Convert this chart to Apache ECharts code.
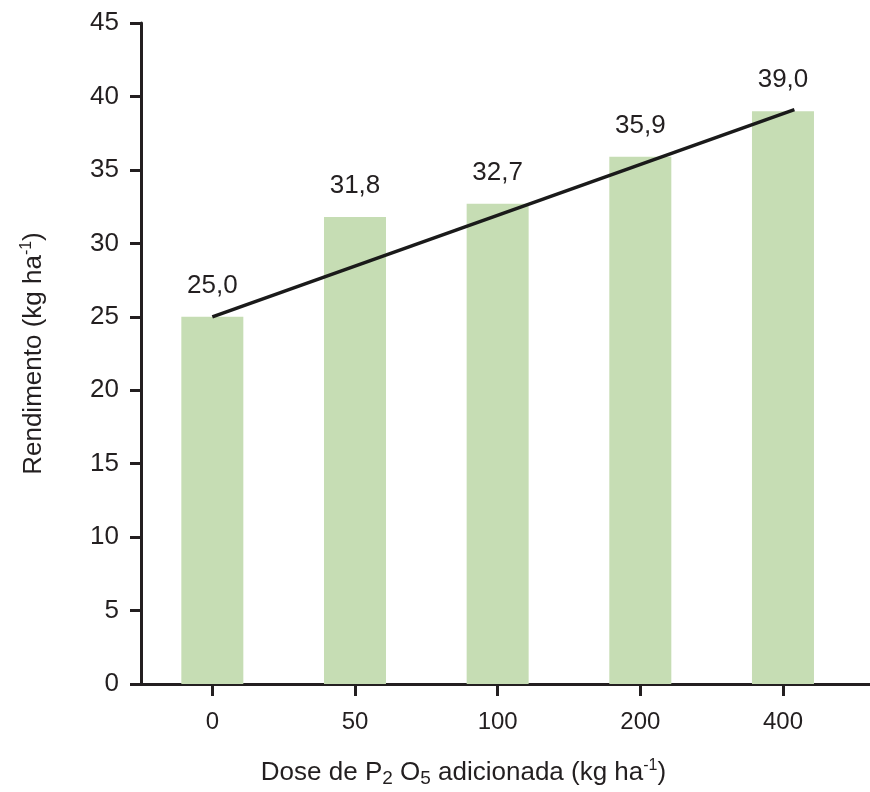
<!DOCTYPE html>
<html><head><meta charset="utf-8">
<script src="https://cdn.jsdelivr.net/npm/echarts@6/dist/echarts.min.js"></script>
<style>html,body{margin:0;padding:0;background:#fff}#c{width:870px;height:792px}</style>
</head><body><div id="c"></div>
<script>
const categories = ['0', '50', '100', '200', '400'];
const yieldValues = [25.0, 31.8, 32.7, 35.9, 39.0];
const valueLabels = ['25,0', '31,8', '32,7', '35,9', '39,0'];
const trendX = [0, 4.08];
const trendY = [25.0, 39.1];
const catPositions = [0, 1, 2, 3, 4];

const ink = '#231f20';
const font = 'Liberation Sans, Arial, sans-serif';
const chart = echarts.init(document.getElementById('c'), null, {renderer: 'canvas'});
chart.setOption({
  animation: false,
  backgroundColor: '#fff',
  grid: {left: 141, right: 0, top: 23, bottom: 108, containLabel: false, outerBoundsMode: 'none'},
  xAxis: {
    type: 'value', min: -0.5, max: 4.61,
    name: '{a|Dose de P}{sub|2}{a| O}{sub|5}{a| adicionada (kg ha}{sup|-1}{a|)}',
    nameLocation: 'middle', nameGap: 74,
    nameTextStyle: {
      padding: [0, 84, 0, 0],
      rich: {
        a: {fontSize: 26, fontFamily: font, color: ink, lineHeight: 30},
        sub: {fontSize: 19, fontFamily: font, color: ink, lineHeight: 4, verticalAlign: 'bottom'},
        sup: {fontSize: 16, fontFamily: font, color: ink, lineHeight: 16, verticalAlign: 'top'}
      }
    },
    axisLine: {show: true, onZero: false, lineStyle: {color: ink, width: 3}},
    axisTick: {show: true, customValues: catPositions, length: 12, lineStyle: {color: ink, width: 3}},
    axisLabel: {customValues: catPositions, formatter: v => categories[Math.round(v)], margin: 26,
      fontSize: 24, fontFamily: font, color: ink},
    splitLine: {show: false}
  },
  yAxis: {
    type: 'value', min: 0, max: 45, interval: 5,
    name: '{a|Rendimento (kg ha}{sup|-1}{a|)}',
    nameLocation: 'middle', nameGap: 92,
    nameTextStyle: {
      rich: {
        a: {fontSize: 26, fontFamily: font, color: ink, lineHeight: 30},
        sup: {fontSize: 16, fontFamily: font, color: ink, lineHeight: 16, verticalAlign: 'top'}
      }
    },
    axisLine: {show: true, onZero: false, lineStyle: {color: ink, width: 3}},
    axisTick: {show: true, length: 11, lineStyle: {color: ink, width: 3}},
    axisLabel: {margin: 22, fontSize: 26, fontFamily: font, color: ink},
    splitLine: {show: false}
  },
  series: [
    {
      type: 'bar', barWidth: 62,
      data: yieldValues.map((v, i) => [catPositions[i], v]),
      itemStyle: {color: '#c6ddb4'},
      label: {show: true, position: 'top', distance: 18, fontSize: 26, fontFamily: font, color: ink,
        formatter: p => valueLabels[p.dataIndex]},
      z: 2
    },
    {
      type: 'line', symbol: 'none',
      data: trendX.map((x, i) => [x, trendY[i]]),
      lineStyle: {color: '#1a1a1a', width: 3.5},
      z: 5
    }
  ]
});
</script></body></html>
